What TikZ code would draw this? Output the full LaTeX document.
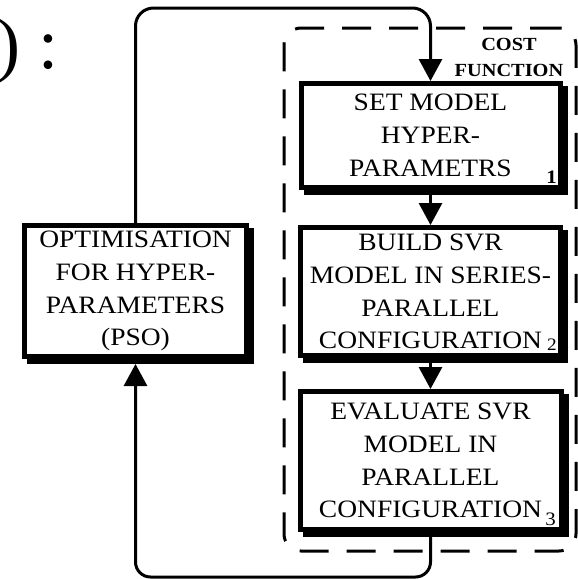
\documentclass[tikz,border=0pt]{standalone}
\usepackage{fontspec}
\setmainfont{Liberation Serif}[FakeStretch=1.1]
\newfontfamily\plainserif{Liberation Serif}
\usetikzlibrary{arrows.meta,backgrounds}

\begin{document}
\begin{tikzpicture}[x=1pt,y=-1pt,
  stepbox/.style={draw, line width=5pt, fill=white, inner sep=0pt, align=center,
    font=\fontsize{25}{32.8}\selectfont},
  link/.style={line width=3pt, -{Triangle[length=22pt,width=23pt]}},
  costframe/.style={draw, dash pattern=on 29pt off 18pt, line width=3pt,
    rounded corners=17pt, inner sep=0pt},
  idx/.style={inner sep=0pt, anchor=base east},
  boxshadow/.style={fill=black},
]
\useasboundingbox (0,0) rectangle (578,579);

% trailing text of the preceding formula
\node[anchor=base west, inner sep=0pt, font=\plainserif\fontsize{72}{72}\selectfont] (tail) at (-4,68) {) :};

% dashed frame around the cost function
\node[costframe, minimum width=292pt, minimum height=523pt] (cost) at (430,289.5) {};
\node[font=\bfseries\fontsize{18.5}{26}\selectfont, align=center, inner sep=0pt] (costlbl) at (509,57) {COST\\FUNCTION};

% process boxes
\node[stepbox, minimum width=259pt, minimum height=104pt] (b1) at (430.5,135.5) {SET MODEL\\HYPER-\\PARAMETRS};
\node[stepbox, minimum width=260pt, minimum height=128pt] (b2) at (430.5,291.5) {BUILD SVR\\MODEL IN SERIES-\\PARALLEL\\CONFIGURATION};
\node[stepbox, minimum width=261pt, minimum height=138pt] (b3) at (430.5,460.5) {EVALUATE SVR\\MODEL IN\\PARALLEL\\CONFIGURATION};
\node[stepbox, minimum width=222pt, minimum height=131pt] (opt) at (135.5,291) {OPTIMISATION\\FOR HYPER-\\PARAMETERS\\(PSO)};

% step numbers
\node[idx, font=\bfseries\fontsize{19}{19}\selectfont] (n1) at (557,183) {1};
\node[idx, font=\fontsize{17.5}{17.5}\selectfont] (n2) at (557,350) {2};
\node[idx, font=\fontsize{19}{19}\selectfont] (n3) at (556,525) {3};

% solid drop shadows behind the boxes
\begin{scope}[on background layer]
  \foreach \b in {b1,b2,b3,opt}
    \fill[boxshadow] ([shift={(5,5)}]\b.north west) rectangle ([shift={(5,5)}]\b.south east);
\end{scope}

% connectors
\coordinate (topc) at (300,8);
\coordinate (botc) at (300,577);
\draw[link, rounded corners=18pt] (opt.north) |- (topc) -| (b1.north);
\draw[link] (b1.south) -- (b2.north);
\draw[link] (b2.south) -- (b3.north);
\draw[link, rounded corners=15pt, shorten >=5pt] (b3.south) |- (botc) -| (opt.south);
\end{tikzpicture}
\end{document}
